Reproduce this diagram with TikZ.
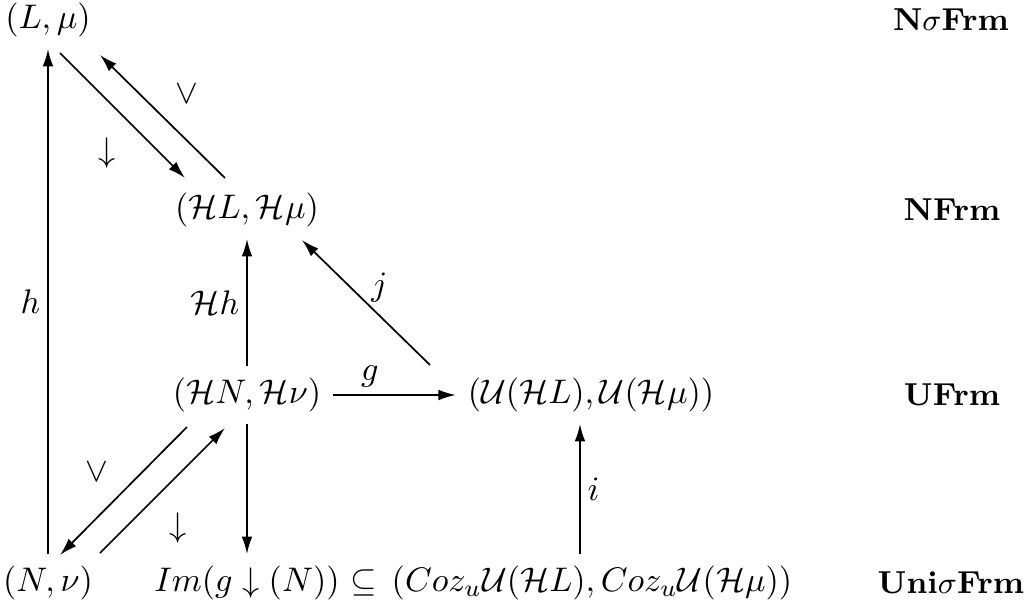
\documentclass[tikz,border=0pt]{standalone}
\usepackage{amsmath,amssymb}
\usepackage{tikz}
\usetikzlibrary{arrows.meta,positioning,calc}

\begin{document}
\begin{tikzpicture}[x=0.0103cm,y=-0.0103cm,
  obj/.style={inner sep=3.3pt},
  cat/.style={font=\fontsize{9.3}{11}\selectfont\bfseries},
  lab/.style={inner sep=2pt},
  arr/.style={-{Latex[length=1.8mm,width=1.1mm]},line width=0.5pt}]
\useasboundingbox (0,0) rectangle (1024,605);
% objects
\node[obj] (L) at (48,20) {$(L,\mu)$};
\node[obj] (HL) at (247,210) {$(\mathcal{H}L,\mathcal{H}\mu)$};
\node[obj] (HN) at (247,395) {$(\mathcal{H}N,\mathcal{H}\nu)$};
\node[obj] (U) at (591,395) {$(\mathcal{U}(\mathcal{H}L),\mathcal{U}(\mathcal{H}\mu))$};
\node[obj] (N) at (48,583) {$(N,\nu)$};
\node[obj] (Im) at (247,583) {$Im(g\downarrow(N))$};
\node[obj] (sub) at (364,583) {$\subseteq$};
\node[obj] (C) at (592,583) {$(Coz_u\mathcal{U}(\mathcal{H}L),Coz_u\mathcal{U}(\mathcal{H}\mu))$};
% categories
\node[cat] (c1) at (951,20) {N$\sigma$Frm};
\node[cat] (c2) at (952,210) {NFrm};
\node[cat] (c3) at (952,395) {UFrm};
\node[cat] (c4) at (951,583) {Uni$\sigma$Frm};
% arrows
\draw[arr] (N) -- node[lab,midway,left] {$h$} (L);
\draw[arr] (HN) -- node[lab,midway,left] {$\mathcal{H}h$} (HL);
\draw[arr] (HN) -- (Im);
\draw[arr] ($(C.north)+(-12,0)$) -- node[lab,midway,right] {$i$} ($(U.south)+(-11,0)$);
\draw[arr] (HN) -- node[lab,pos=0.3,above] {$g$} (U);
\draw[arr] ($(U)+(-161,-30)$) -- node[lab,pos=0.48,above right=-2pt] {$j$} ($(HL)+(55,30)$);
\draw[arr] ($(L)+(12,33)$) -- node[lab,pos=0.56,below left=3pt] {$\downarrow$} ($(HL)+(-62,-32)$);
\draw[arr] ($(HL)+(-22,-32)$) -- node[lab,pos=0.5,above right=2pt] {$\vee$} ($(L)+(52,35)$);
\draw[arr] ($(HN)+(-60,32)$) -- node[lab,pos=0.52,above left=2pt] {$\vee$} ($(N)+(12,-28)$);
\draw[arr] ($(N)+(52,-30)$) -- node[lab,pos=0.44,below right=3pt] {$\downarrow$} ($(HN)+(-22,33)$);
\end{tikzpicture}
\end{document}
